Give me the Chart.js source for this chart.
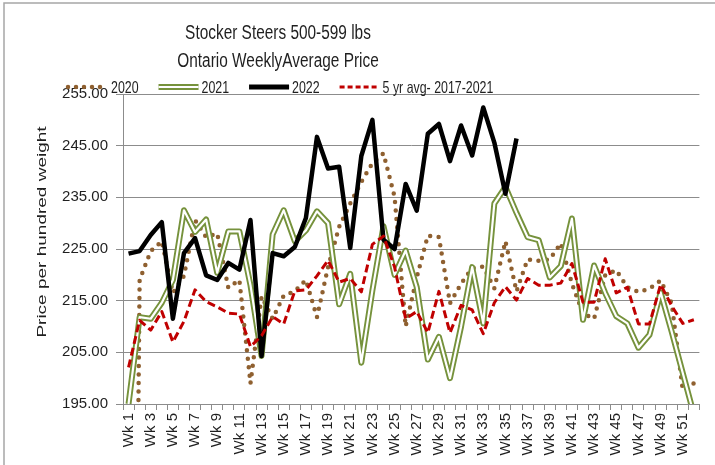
<!DOCTYPE html>
<html>
<head>
<meta charset="utf-8">
<script src="https://cdn.jsdelivr.net/npm/chart.js@4.4.0/dist/chart.umd.min.js"></script>
<style>
  html, body { margin: 0; padding: 0; background: #fff; }
  canvas { display: block; }
</style>
</head>
<body>
<canvas id="chart" width="715" height="465"></canvas>
<script>
// week categories
const weeks = ["Wk 1","Wk 2","Wk 3","Wk 4","Wk 5","Wk 6","Wk 7","Wk 8","Wk 9","Wk 10",
  "Wk 11","Wk 12","Wk 13","Wk 14","Wk 15","Wk 16","Wk 17","Wk 18","Wk 19","Wk 20",
  "Wk 21","Wk 22","Wk 23","Wk 24","Wk 25","Wk 26","Wk 27","Wk 28","Wk 29","Wk 30",
  "Wk 31","Wk 32","Wk 33","Wk 34","Wk 35","Wk 36","Wk 37","Wk 38","Wk 39","Wk 40",
  "Wk 41","Wk 42","Wk 43","Wk 44","Wk 45","Wk 46","Wk 47","Wk 48","Wk 49","Wk 50",
  "Wk 51","Wk 52"];

// $/cwt (2020 wk 1 is plotted as zero)
const price2020 = [0, 219.0, 224.6, 226.5, 216.5, 219.8, 230.6, 227.3, 228.0, 217.5,
  219.0, 199.0, 215.8, 211.5, 216.0, 216.8, 219.0, 211.8, 221.5, 229.3,
  233.8, 238.0, 241.6, 243.5, 235.1, 210.0, 219.5, 227.6, 227.3, 214.5,
  218.3, 221.3, 221.6, 217.4, 226.5, 216.8, 223.0, 222.7, 223.0, 226.1,
  218.3, 212.5, 211.5, 219.9, 220.9, 217.6, 216.7, 217.3, 218.9, 214.5,
  197.7, 199.0];
const price2021 = [195.0, 211.8, 211.5, 214.6, 219.0, 232.5, 228.3, 230.7, 220.4, 228.4,
  228.4, 218.0, 204.3, 227.8, 232.5, 226.5, 228.6, 232.3, 230.0, 214.3,
  220.2, 203.0, 217.0, 229.4, 220.0, 224.7, 217.6, 203.6, 208.0, 200.0,
  210.0, 221.5, 210.6, 233.8, 237.0, 232.0, 227.3, 226.7, 219.5, 221.7,
  230.9, 211.3, 221.8, 216.5, 212.0, 210.6, 205.9, 208.4, 216.6, 209.0,
  201.0, 193.0];
const price2022 = [224.1, 224.6, 227.7, 230.2, 211.5, 224.2, 227.1, 219.9, 219.0, 222.3,
  221.0, 230.6, 204.3, 224.2, 223.6, 225.4, 231.0, 246.7, 240.6, 240.9,
  225.2, 243.0, 250.0, 226.8, 225.0, 237.6, 232.4, 247.3, 249.2, 242.0,
  248.9, 243.1, 252.4, 245.6, 235.7, 246.4];
const avg5yr = [202.1, 211.2, 209.3, 212.9, 207.0, 211.0, 217.1, 214.8, 213.8, 212.6,
  212.4, 206.1, 208.2, 211.9, 210.5, 216.9, 217.1, 219.8, 222.8, 218.6,
  219.3, 216.7, 225.9, 227.5, 221.5, 211.5, 212.9, 208.8, 216.8, 208.8,
  214.1, 213.2, 208.6, 214.6, 217.7, 215.1, 219.3, 218.0, 218.0, 218.4,
  222.2, 214.7, 214.7, 223.1, 216.5, 217.6, 210.5, 210.5, 218.1, 214.0,
  210.6, 211.3];

const titleLines = ["Stocker Steers 500-599 lbs", "Ontario WeeklyAverage Price"];
const yTitle = "Price per hundred weight";

const brown = "#8f6030";
const olive = "#76923c";
const red = "#c00000";
const gridColor = "#8c8c8c";
const textColor = "#1f1f1f";

const legendItems = [
  { text: "2020", kind: "dots" },
  { text: "2021", kind: "double" },
  { text: "2022", kind: "solid" },
  { text: "5 yr avg- 2017-2021", kind: "dash" }
];

function strokeSample(ctx, kind, x0, x1, y) {
  ctx.save();
  ctx.lineJoin = "round";
  const line = (color, w, dash, cap) => {
    ctx.strokeStyle = color;
    ctx.lineWidth = w;
    ctx.setLineDash(dash);
    ctx.lineCap = cap;
    ctx.beginPath();
    ctx.moveTo(x0, y);
    ctx.lineTo(x1, y);
    ctx.stroke();
  };
  if (kind === "dots") line(brown, 4.5, [0, 8], "round");
  if (kind === "double") { line(olive, 6, [], "butt"); line("#fff", 2.2, [], "butt"); }
  if (kind === "solid") line("#000", 5, [], "butt");
  if (kind === "dash") line(red, 3, [5, 3], "butt");
  ctx.restore();
}

const decorations = {
  id: "decorations",
  beforeDraw(chart) {
    const ctx = chart.ctx;
    ctx.save();
    ctx.strokeStyle = "#a6a6a6";
    ctx.lineWidth = 1.5;
    ctx.beginPath();
    ctx.moveTo(4, chart.height);
    ctx.lineTo(4, 3);
    ctx.lineTo(chart.width, 3);
    ctx.stroke();
    ctx.restore();
  },
  afterDraw(chart) {
    const ctx = chart.ctx;
    ctx.save();
    ctx.fillStyle = textColor;
    ctx.textBaseline = "middle";

    // title
    ctx.textAlign = "center";
    ctx.font = '20px "Liberation Sans"';
    titleLines.forEach((line, i) => {
      ctx.save();
      ctx.translate(278, 33 + i * 28);
      ctx.scale(0.77, 1);
      ctx.fillText(line, 0, 0);
      ctx.restore();
    });

    // legend
    ctx.textAlign = "left";
    ctx.font = '16.5px "Liberation Sans"';
    const sx = 0.75;
    let x = 68;
    const ly = 87;
    legendItems.forEach(item => {
      strokeSample(ctx, item.kind, x, x + 40, ly);
      x += 43;
      ctx.save();
      ctx.translate(x, ly + 1);
      ctx.scale(sx, 1);
      ctx.fillText(item.text, 0, 0);
      ctx.restore();
      x += ctx.measureText(item.text).width * sx + 20;
    });

    // y axis title
    ctx.textAlign = "center";
    ctx.font = '19px "Liberation Sans"';
    ctx.translate(42, 232);
    ctx.rotate(-Math.PI / 2);
    ctx.scale(1, 0.72);
    ctx.fillText(yTitle, 0, 0);
    ctx.restore();
  }
};

new Chart(document.getElementById("chart"), {
  type: "line",
  data: {
    labels: weeks,
    datasets: [
      {
        label: "5 yr avg- 2017-2021",
        data: avg5yr,
        borderColor: red,
        borderWidth: 3,
        borderDash: [8, 4],
        order: 0
      },
      {
        label: "2022",
        data: price2022,
        borderColor: "#000",
        borderWidth: 4.5,
        order: 1
      },
      {
        label: "2021",
        data: price2021,
        borderColor: "#fff",
        borderWidth: 2.2,
        order: 2
      },
      {
        label: "2021 outline",
        data: price2021,
        borderColor: olive,
        borderWidth: 6,
        order: 3
      },
      {
        label: "2020",
        data: price2020,
        borderColor: brown,
        borderWidth: 4.5,
        borderDash: [0, 8.5],
        borderCapStyle: "round",
        order: 4
      }
    ]
  },
  options: {
    responsive: false,
    animation: false,
    events: [],
    elements: {
      point: { radius: 0 },
      line: { tension: 0, borderJoinStyle: "round", fill: false }
    },
    layout: { padding: { top: 94, right: 15, bottom: 0, left: 0 } },
    plugins: {
      legend: { display: false },
      title: { display: false },
      tooltip: { enabled: false }
    },
    scales: {
      x: {
        offset: true,
        grid: {
          offset: true,
          drawOnChartArea: false,
          drawTicks: true,
          tickLength: 6,
          color: gridColor
        },
        border: { color: gridColor, width: 1 },
        ticks: {
          autoSkip: false,
          minRotation: 90,
          maxRotation: 90,
          padding: 3,
          color: textColor,
          font: { family: "Liberation Sans", size: 15 },
          callback: (v, i) => (i % 2 === 0 ? weeks[i] : "")
        },
        afterFit: scale => { scale.height = 61; }
      },
      y: {
        min: 195,
        max: 255,
        grid: { color: gridColor, tickLength: 7, tickColor: gridColor },
        border: { color: gridColor, width: 1 },
        ticks: {
          stepSize: 10,
          padding: 8,
          color: textColor,
          font: { family: "Liberation Sans", size: 15 },
          callback: v => v.toFixed(2)
        },
        afterFit: scale => { scale.width = 123; }
      }
    }
  },
  plugins: [decorations]
});
</script>
</body>
</html>
